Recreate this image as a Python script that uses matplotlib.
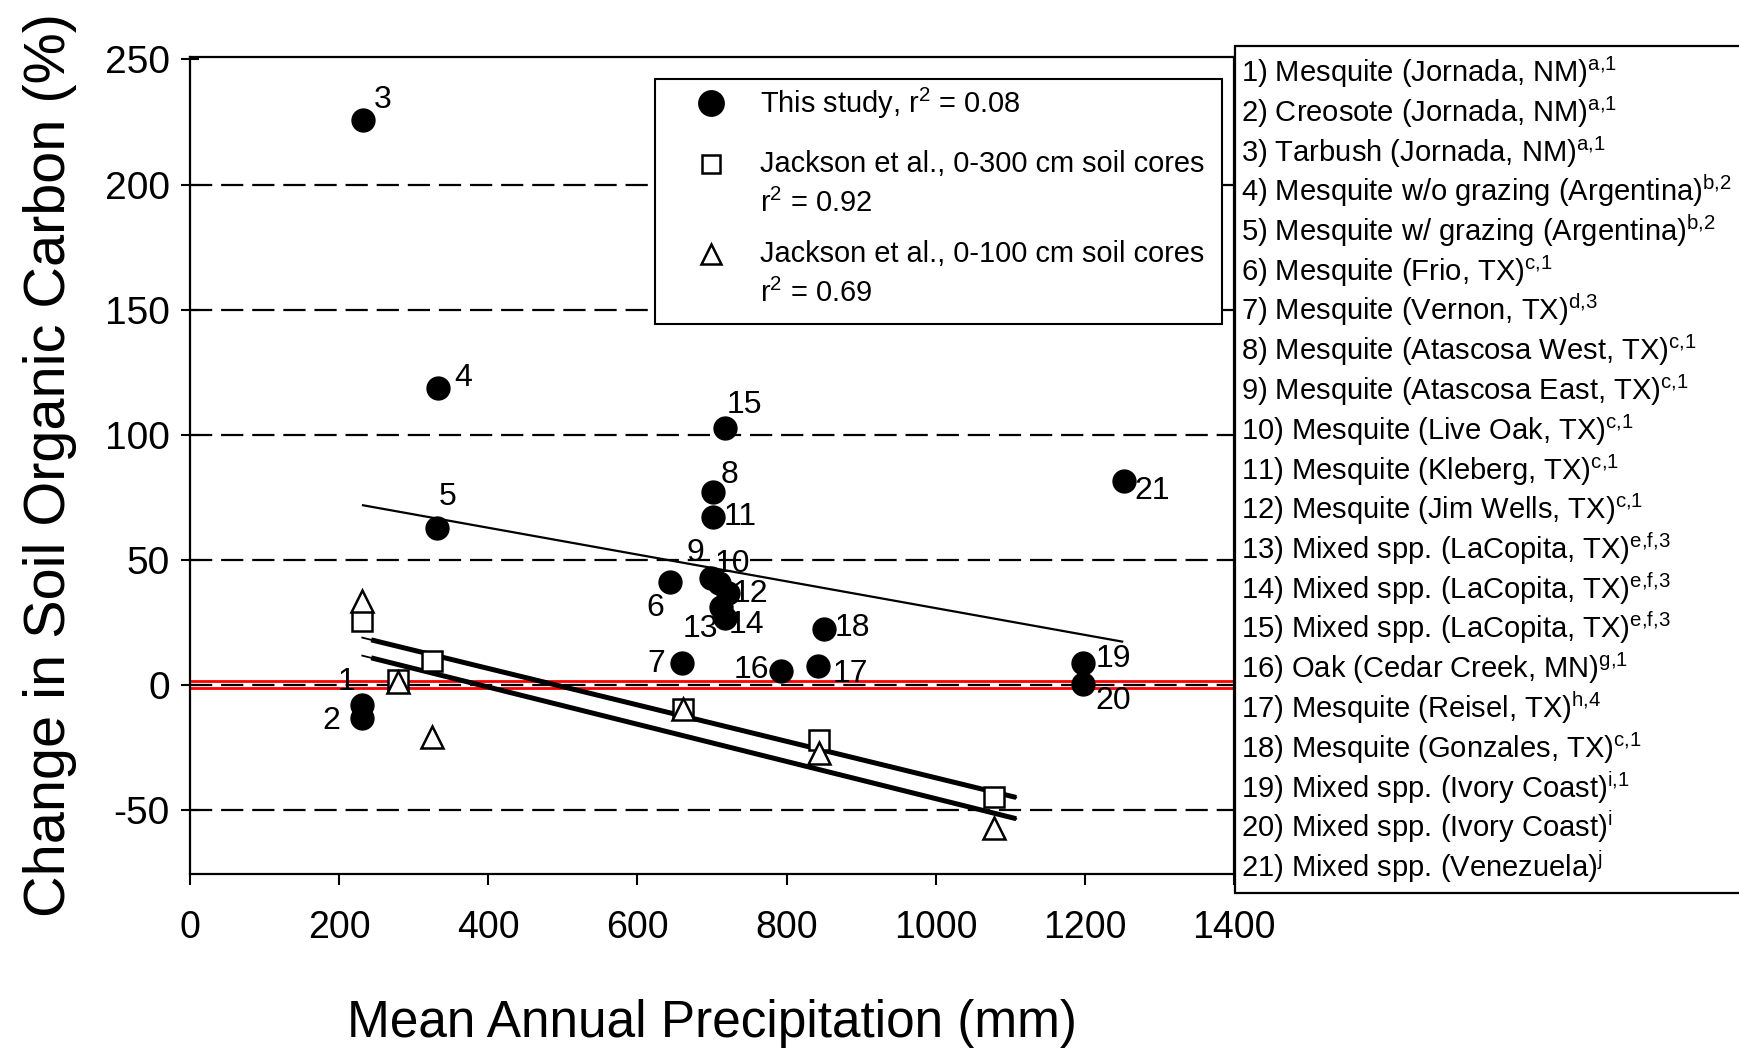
import matplotlib.pyplot as plt
from matplotlib.patches import Rectangle

plt.rcParams["font.family"] = ["Liberation Sans", "DejaVu Sans"]
plt.rcParams["mathtext.fontset"] = "custom"
plt.rcParams["mathtext.rm"] = "Liberation Sans"
plt.rcParams["mathtext.it"] = "Liberation Sans:italic"
plt.rcParams["axes.unicode_minus"] = False

# --- data ---
site_ids = list(range(1, 22))
study_precip = [230, 230, 232, 332, 331, 643, 660, 701, 698, 709, 702,
                721, 712, 718, 717, 792, 842, 850, 1198, 1198, 1252]
study_change = [-8.2, -13.4, 226, 118.6, 62.9, 41, 8.8, 77, 42.7, 40.7, 67,
                36.7, 31, 26.7, 102.5, 5.6, 7.6, 22.3, 8.9, 0.5, 81.4]

jackson300_precip = [231, 279, 324, 661, 844, 1078]
jackson300_change = [25.7, 2.0, 9.7, -9.5, -22, -45]

jackson100_precip = [231, 279, 324, 661, 844, 1078]
jackson100_change = [33.7, 1.1, -20.8, -9.5, -27.3, -57.3]

# regression lines (end points)
study_fit_x = [232, 1250]
study_fit_y = [71.8, 17.3]
jackson300_fit_x = [231, 243, 1108]
jackson300_fit_y = [18.9, 18.0, -45.0]
jackson100_fit_x = [231, 243, 1108]
jackson100_fit_y = [11.7, 10.8, -53.5]

zero_band = [1.4, -1.3]

site_names = [
    "Mesquite (Jornada, NM)", "Creosote (Jornada, NM)", "Tarbush (Jornada, NM)",
    "Mesquite w/o grazing (Argentina)", "Mesquite w/ grazing (Argentina)",
    "Mesquite (Frio, TX)", "Mesquite (Vernon, TX)",
    "Mesquite (Atascosa West, TX)", "Mesquite (Atascosa East, TX)",
    "Mesquite (Live Oak, TX)", "Mesquite (Kleberg, TX)",
    "Mesquite (Jim Wells, TX)", "Mixed spp. (LaCopita, TX)",
    "Mixed spp. (LaCopita, TX)", "Mixed spp. (LaCopita, TX)",
    "Oak (Cedar Creek, MN)", "Mesquite (Reisel, TX)",
    "Mesquite (Gonzales, TX)", "Mixed spp. (Ivory Coast)",
    "Mixed spp. (Ivory Coast)", "Mixed spp. (Venezuela)",
]
site_refs = ["a,1", "a,1", "a,1", "b,2", "b,2", "c,1", "d,3", "c,1", "c,1",
             "c,1", "c,1", "c,1", "e,f,3", "e,f,3", "e,f,3", "g,1", "h,4",
             "c,1", "i,1", "i", "j"]

x_ticks = [0, 200, 400, 600, 800, 1000, 1200, 1400]
y_ticks = [-50, 0, 50, 100, 150, 200, 250]

# label offsets in pixels (dx, dy) from each point
label_offsets = [(-15, 23), (-30, -3), (20, 20), (26, 10), (11, 31),
                 (-14, -26), (-26, -1), (17, 17), (-15, 25), (14, 19),
                 (27, 0), (23, -1), (-21, -22), (21, -7), (20, 23),
                 (-29, 1), (32, -8), (29, 1), (30, 4), (30, -17), (29, -10)]

fig = plt.figure(figsize=(17.4, 10.51), dpi=100)
ax = fig.add_axes([0.1092, 0.1684, 0.6, 0.7774])

ax.set_xlim(0, 1400)
ax.set_ylim(-75.6, 251)

# dashed horizontal grid
for level in y_ticks[:-1]:
    ax.axhline(level, color="black", linewidth=1.6, dashes=(10, 4), zorder=1)

for level in zero_band:
    ax.axhline(level, color="red", linewidth=2.0, zorder=2)

# regression lines
ax.plot(study_fit_x, study_fit_y, color="black", linewidth=1.6, zorder=3)
ax.plot(jackson300_fit_x, jackson300_fit_y, color="black", linewidth=1.3, zorder=3)
ax.plot(jackson300_fit_x[1:], jackson300_fit_y[1:], color="black", linewidth=3.6,
        solid_capstyle="butt", zorder=3)
ax.plot(jackson100_fit_x, jackson100_fit_y, color="black", linewidth=1.3, zorder=3)
ax.plot(jackson100_fit_x[1:], jackson100_fit_y[1:], color="black", linewidth=3.6,
        solid_capstyle="butt", zorder=3)

ax.plot(jackson300_precip, jackson300_change, linestyle="none", marker="s",
        markersize=14, markerfacecolor="white", markeredgecolor="black",
        markeredgewidth=1.8, zorder=4)
ax.plot(jackson100_precip, jackson100_change, linestyle="none", marker="^",
        markersize=16, markerfacecolor="white", markeredgecolor="black",
        markeredgewidth=1.8, zorder=4)
ax.plot(study_precip, study_change, linestyle="none", marker="o",
        markersize=16.5, color="black", zorder=5)

for site, px, py, offset in zip(site_ids, study_precip, study_change, label_offsets):
    ax.annotate(str(site), (px, py), textcoords="offset pixels", xytext=offset,
                ha="center", va="center", fontsize=23, zorder=6)

# legend box drawn by hand so markers sit on the first text line
ax.add_patch(Rectangle((0.4454, 0.6732), 0.5431, 0.2999, transform=ax.transAxes,
                       facecolor="white", edgecolor="black", linewidth=1.5,
                       zorder=7))
legend_rows = [
    ("o", 17.5, "black", 0.9437, ["This study, r$^2$ = 0.08"]),
    ("s", 13.5, "white", 0.869,
     ["Jackson et al., 0-300 cm soil cores", "r$^2$ = 0.92"]),
    ("^", 15, "white", 0.7589,
     ["Jackson et al., 0-100 cm soil cores", "r$^2$ = 0.69"]),
]
for marker, size, face, y_row, lines in legend_rows:
    ax.plot([0.499], [y_row], transform=ax.transAxes, marker=marker,
            markersize=size, markerfacecolor=face, markeredgecolor="black",
            markeredgewidth=1.8, linestyle="none", zorder=8, clip_on=False)
    for i, line in enumerate(lines):
        ax.text(0.546, y_row - i * 0.0477, line, transform=ax.transAxes,
                fontsize=20.9, va="center", ha="left", zorder=8)

ax.set_xticks(x_ticks)
ax.set_yticks(y_ticks)
ax.tick_params(axis="y", direction="inout", length=13, width=1.5,
               labelsize=28, pad=8)
ax.tick_params(axis="x", direction="out", length=8, width=1.5,
               labelsize=27, pad=18)
for spine in ax.spines.values():
    spine.set_linewidth(1.6)

ax.set_xlabel("Mean Annual Precipitation (mm)", fontsize=37, labelpad=38)
ax.set_ylabel("Change in Soil Organic Carbon (%)", fontsize=41.5, labelpad=20)

# site list on the right
fig.patches.append(Rectangle((0.7098, 0.1503), 0.31, 0.8059,
                             transform=fig.transFigure, facecolor="white",
                             edgecolor="black", linewidth=1.6))
for i, (name, ref) in enumerate(zip(site_names, site_refs)):
    y_base = 1 - (82 + i * 39.75) / 1051
    sup = ref.replace(",", "{,}")
    fig.text(0.7135, y_base, f"{i + 1}) {name}" + r"$^{\mathrm{" + sup + "}}$",
             fontsize=21, ha="left", va="baseline")

fig.savefig("out.png", dpi=100)
